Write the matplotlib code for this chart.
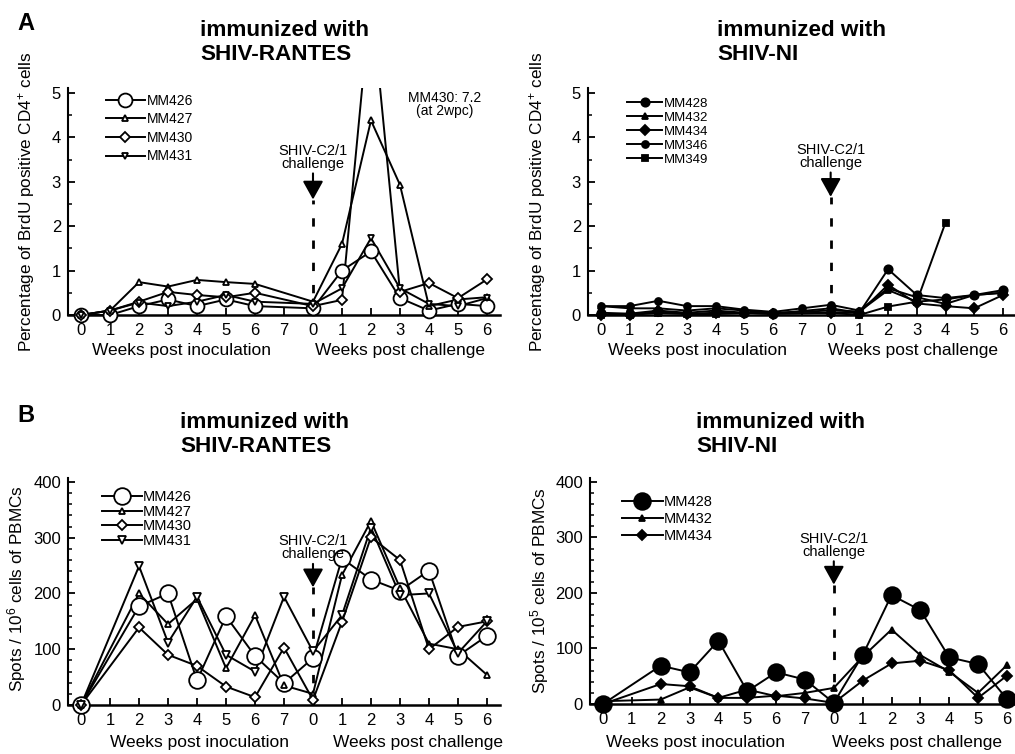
import numpy as np
import matplotlib
matplotlib.use("Agg")
import matplotlib.pyplot as plt
from matplotlib.lines import Line2D

plt.rcParams["font.family"] = "Liberation Sans"
plt.rcParams["mathtext.fontset"] = "custom"
plt.rcParams["mathtext.rm"] = "Liberation Sans"
plt.rcParams["mathtext.it"] = "Liberation Sans:italic"

nan = np.nan

# x categories: weeks post inoculation 0-7, then weeks post challenge 0-6
week_labels = ["0", "1", "2", "3", "4", "5", "6", "7", "0", "1", "2", "3", "4", "5", "6"]

# A: percentage of BrdU positive CD4+ cells, SHIV-RANTES
a_rantes_mm426 = [0, 0, 0.2, 0.35, 0.2, 0.35, 0.2, nan, 0.15, 1.0, 1.43, 0.38, 0.1, 0.25, 0.2]
a_rantes_mm427 = [0, 0.1, 0.74, 0.64, 0.79, 0.74, 0.70, nan, 0.3, 1.6, 4.38, 2.93, 0.2, 0.35, 0.4]
a_rantes_mm430 = [0, 0.1, 0.3, 0.52, 0.45, 0.4, 0.5, nan, 0.2, 0.34, 7.2, 0.52, 0.72, 0.38, 0.8]
a_rantes_mm431 = [0, 0.1, 0.28, 0.2, 0.3, 0.45, 0.3, nan, 0.25, 0.6, 1.73, 0.6, 0.25, 0.2, 0.38]

# A: SHIV-NI
a_ni_mm428 = [0.05, 0.03, 0.1, 0.05, 0.1, 0.05, 0.03, nan, 0.15, 0.05, 1.03, 0.45, 0.38, 0.45, 0.56]
a_ni_mm432 = [0.2, 0.15, 0.15, 0.1, 0.15, 0.1, 0.05, nan, 0.1, 0.08, 0.56, 0.3, 0.35, 0.45, 0.5]
a_ni_mm434 = [0.0, 0.0, 0.08, 0.03, 0.05, 0.05, 0.03, nan, 0.05, 0.05, 0.68, 0.26, 0.2, 0.15, 0.45]
a_ni_mm346 = [0.2, 0.2, 0.32, 0.2, 0.2, 0.12, 0.07, 0.15, 0.23, 0.1, 0.6, 0.4, 0.25, 0.45, 0.5]
a_ni_mm349 = [0.0, 0.0, 0.05, 0.02, 0.02, 0.05, 0.03, nan, 0.05, 0.0, 0.19, 0.3, 2.08, nan, nan]

# B: spots / 10^6 PBMCs, SHIV-RANTES
b_rantes_mm426 = [0, nan, 177, 200, 44, 159, 88, 39, 84, 263, 225, 205, 241, 88, 124]
b_rantes_mm427 = [0, nan, 200, 145, 190, 66, 161, 35, 20, 233, 330, 210, 110, 100, 54]
b_rantes_mm430 = [0, nan, 139, 90, 70, 33, 14, 103, 9, 149, 301, 260, 100, 140, 150]
b_rantes_mm431 = [0, nan, 249, 112, 194, 90, 60, 194, 96, 161, 318, 197, 200, 93, 150]

# B: SHIV-NI
b_ni_mm428 = [0, nan, 69, 57, 114, 23, 57, 44, 2, 88, 196, 169, 84, 72, 9]
b_ni_mm432 = [5, nan, 8, 30, 11, 26, 14, 20, 29, 85, 134, 88, 58, 20, 70]
b_ni_mm434 = [0, nan, 36, 32, 11, 11, 15, 10, 2, 42, 73, 78, 61, 11, 51]

positions = np.arange(len(week_labels))
W, H = 1015, 754


def series(ax, vals, marker, ms, filled, label, ytop):
    y = np.array(vals, dtype=float)
    ok = ~np.isnan(y)
    ax.plot(positions[ok], y[ok], "-", color="k", lw=1.4, zorder=2)
    vis = ok & (y <= ytop)
    fc = "k" if filled else "white"
    ax.plot(positions[vis], y[vis], ls="none", marker=marker, ms=ms, mfc=fc,
            mec="k", mew=1.3, clip_on=False, zorder=3)
    return Line2D([], [], color="k", lw=1.4, marker=marker, ms=ms, mfc=fc,
                  mec="k", mew=1.3, label=label)


def setup(ax, ytop, xmax, major, minor):
    ax.set_xlim(-0.45, xmax)
    ax.set_ylim(0, ytop)
    ax.spines["top"].set_visible(False)
    ax.spines["right"].set_visible(False)
    ax.spines["left"].set_linewidth(1.5)
    ax.spines["bottom"].set_linewidth(1.8)
    ax.set_xticks(positions)
    ax.set_xticklabels(week_labels)
    ax.set_yticks(major)
    ax.set_yticks(minor, minor=True)
    ax.tick_params(axis="x", direction="in", length=5, width=1.3, labelsize=12, pad=6)
    ax.tick_params(axis="y", which="major", direction="in", length=5, width=1.3, labelsize=12, pad=5)
    ax.tick_params(axis="y", which="minor", direction="in", length=3, width=1.1)


def challenge(ax, tip, tail):
    ax.plot([8, 8], [0, tip], color="k", lw=2, ls=(0, (3, 5)), zorder=1)
    ax.annotate("SHIV-C2/1\nchallenge", xy=(8, tip), xytext=(8, tail),
                ha="center", va="bottom", fontsize=10.5, linespacing=0.9,
                arrowprops=dict(arrowstyle="-|>,head_length=0.45,head_width=0.25",
                                mutation_scale=25, color="k", lw=1.5,
                                shrinkA=0, shrinkB=0))


def px(x, y):
    return x / W, 1 - y / H


fig = plt.figure(figsize=(W / 100, H / 100), dpi=100)

# ---- A left
ax1 = fig.add_axes([68 / W, 1 - 315 / H, 432 / W, 227 / H])
setup(ax1, 5.11, 14.45, np.arange(0, 6), np.arange(0.5, 5, 1.0))
h = [series(ax1, a_rantes_mm426, "o", 10, False, "MM426", 5.11),
     series(ax1, a_rantes_mm427, "^", 5, False, "MM427", 5.11),
     series(ax1, a_rantes_mm430, "D", 5, False, "MM430", 5.11),
     series(ax1, a_rantes_mm431, "v", 5, False, "MM431", 5.11)]
ax1.legend(handles=h, loc="upper left", bbox_to_anchor=(0.088, 0.975), frameon=False,
           fontsize=10, handlelength=2.8, handletextpad=0.15, labelspacing=0.33,
           borderpad=0, borderaxespad=0, numpoints=1)
challenge(ax1, 2.6, 3.25)
ax1.text(12.55, 4.74, "MM430: 7.2\n(at 2wpc)", ha="center", va="center",
         fontsize=10, linespacing=0.95)

# ---- A right
ax2 = fig.add_axes([588 / W, 1 - 315 / H, 427 / W, 227 / H])
setup(ax2, 5.11, 14.42, np.arange(0, 6), np.arange(0.5, 5, 1.0))
h = [series(ax2, a_ni_mm428, "o", 6, True, "MM428", 5.11),
     series(ax2, a_ni_mm432, "^", 5, True, "MM432", 5.11),
     series(ax2, a_ni_mm434, "D", 5, True, "MM434", 5.11),
     series(ax2, a_ni_mm346, "o", 5, True, "MM346", 5.11),
     series(ax2, a_ni_mm349, "s", 5, True, "MM349", 5.11)]
ax2.legend(handles=h, loc="upper left", bbox_to_anchor=(0.091, 0.957), frameon=False,
           fontsize=9.5, handlelength=2.7, handletextpad=0.1, labelspacing=0.13,
           borderpad=0, borderaxespad=0, numpoints=1)
challenge(ax2, 2.66, 3.27)

# ---- B left
ax3 = fig.add_axes([68 / W, 1 - 705 / H, 432 / W, 227 / H])
setup(ax3, 407, 14.45, np.arange(0, 401, 100), np.arange(20, 400, 20))
h = [series(ax3, b_rantes_mm426, "o", 12, False, "MM426", 407),
     series(ax3, b_rantes_mm427, "^", 5, False, "MM427", 407),
     series(ax3, b_rantes_mm430, "D", 5, False, "MM430", 407),
     series(ax3, b_rantes_mm431, "v", 6, False, "MM431", 407)]
ax3.legend(handles=h, loc="upper left", bbox_to_anchor=(0.079, 0.947), frameon=False,
           fontsize=10.5, handlelength=2.7, handletextpad=0.1, labelspacing=0.04,
           borderpad=0, borderaxespad=0, numpoints=1)
challenge(ax3, 211, 258)

# ---- B right
ax4 = fig.add_axes([590 / W, 1 - 704 / H, 425 / W, 226 / H])
setup(ax4, 407, 14.28, np.arange(0, 401, 100), np.arange(20, 400, 20))
h = [series(ax4, b_ni_mm428, "o", 12, True, "MM428", 407),
     series(ax4, b_ni_mm432, "^", 5, True, "MM432", 407),
     series(ax4, b_ni_mm434, "D", 5, True, "MM434", 407)]
ax4.legend(handles=h, loc="upper left", bbox_to_anchor=(0.075, 0.925), frameon=False,
           fontsize=10.5, handlelength=2.8, handletextpad=0.1, labelspacing=0.2,
           borderpad=0, borderaxespad=0, numpoints=1)
challenge(ax4, 215, 262)

# ---- titles, labels
fig.text(*px(26, 23), "A", fontsize=17, fontweight="bold", ha="center", va="center")
fig.text(*px(26, 415), "B", fontsize=17, fontweight="bold", ha="center", va="center")

for x0, y0, name in [(200, 31, "SHIV-RANTES"), (717, 31, "SHIV-NI"),
                     (180, 423, "SHIV-RANTES"), (696, 423, "SHIV-NI")]:
    fig.text(*px(x0, y0), "immunized with", fontsize=16.2, fontweight="bold",
             ha="left", va="center")
    fig.text(*px(x0, y0 + 24), name, fontsize=16.2, fontweight="bold",
             ha="left", va="center")

for x0, y0, s in [(27, 202, "Percentage of BrdU positive CD4$^{+}$ cells"),
                  (537, 202, "Percentage of BrdU positive CD4$^{+}$ cells"),
                  (17, 589, "Spots / 10$^{6}$ cells of PBMCs"),
                  (540, 591, "Spots / 10$^{5}$ cells of PBMCs")]:
    fig.text(*px(x0, y0), s, fontsize=12.3, rotation=90, ha="center", va="center")

for x0, y0, s in [(182, 351, "Weeks post inoculation"), (400, 351, "Weeks post challenge"),
                  (697, 351, "Weeks post inoculation"), (913, 351, "Weeks post challenge"),
                  (199, 743, "Weeks post inoculation"), (418, 743, "Weeks post challenge"),
                  (696, 743, "Weeks post inoculation"), (917, 743, "Weeks post challenge")]:
    fig.text(*px(x0, y0), s, fontsize=12.5, ha="center", va="center")

fig.savefig("out.png", dpi=100)
